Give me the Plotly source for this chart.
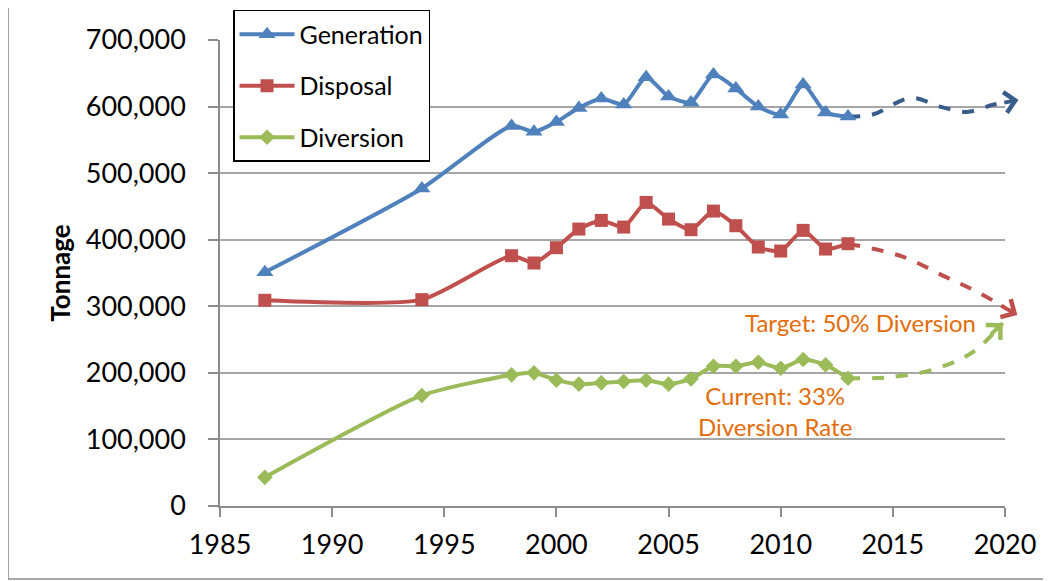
import plotly.graph_objects as go

years = [1987, 1994, 1998, 1999, 2000, 2001, 2002, 2003, 2004, 2005,
         2006, 2007, 2008, 2009, 2010, 2011, 2012, 2013]
generation = [351000, 477000, 571000, 562000, 577000, 598000, 612000, 603000, 644000, 615000,
              606000, 648000, 627000, 600000, 588000, 633000, 591000, 585000]
disposal = [309000, 310000, 376000, 365000, 388000, 416000, 429000, 419000, 456000, 431000,
            415000, 443000, 421000, 389000, 383000, 414000, 386000, 394000]
diversion = [43000, 166000, 197000, 200000, 189000, 183000, 185000, 187000, 189000, 183000,
             191000, 210000, 210000, 216000, 207000, 220000, 212000, 192000]

# hand-drawn projections to 2020, last point = arrow tip
gen_proj_x = [2013, 2014.1, 2015.8, 2017.1, 2018.3, 2019.5, 2020.6]
gen_proj_y = [585000, 588000, 613000, 600000, 592000, 603000, 610000]
disp_proj_x = [2013, 2015.4, 2017.3, 2018.8, 2020.55]
disp_proj_y = [394000, 375000, 345000, 321000, 287000]
div_proj_x = [2013, 2014.7, 2016.8, 2018.6, 2019.9]
div_proj_y = [192000, 193000, 205000, 232000, 275000]

BLUE = "#4F81BD"
BLUE_DARK = "#385D8A"
RED = "#C0504D"
GREEN = "#9BBB59"
ORANGE = "#E46C0A"
GRID = "#a6a6a6"
AXIS = "#8c8c8c"
FONT = "Lato"
X_MAX = 2020

fig = go.Figure()

def add_proj(xs, ys, color):
    fig.add_trace(go.Scatter(
        x=xs, y=ys, mode="lines", showlegend=False, hoverinfo="skip",
        line=dict(color=color, width=4, dash="dash", shape="spline", smoothing=1),
    ))
    # chevron arrow head; keep the tail inside the axis range so plotly draws it
    f = max(0.45, (xs[-1] - (X_MAX - 0.1)) / (xs[-1] - xs[-2]))
    fig.add_annotation(x=xs[-1], y=ys[-1], xref="x", yref="y",
                       ax=xs[-1] - f * (xs[-1] - xs[-2]), ay=ys[-1] - f * (ys[-1] - ys[-2]),
                       axref="x", ayref="y", text="", showarrow=True,
                       arrowhead=4, arrowsize=1, arrowwidth=4, arrowcolor=color)

add_proj(gen_proj_x, gen_proj_y, BLUE_DARK)
add_proj(disp_proj_x, disp_proj_y, RED)
add_proj(div_proj_x, div_proj_y, GREEN)

fig.add_trace(go.Scatter(x=years, y=generation, name="Generation", legendgroup="g",
                         mode="lines+markers",
                         line=dict(color=BLUE, width=4, shape="spline", smoothing=0.6),
                         marker=dict(symbol="triangle-up", size=15, color=BLUE)))
fig.add_trace(go.Scatter(x=years, y=disposal, name="Disposal", legendgroup="d",
                         mode="lines+markers",
                         line=dict(color=RED, width=4, shape="spline", smoothing=0.6),
                         marker=dict(symbol="square", size=13, color=RED)))
fig.add_trace(go.Scatter(x=years, y=diversion, name="Diversion", legendgroup="v",
                         mode="lines+markers",
                         line=dict(color=GREEN, width=4, shape="spline", smoothing=0.6),
                         marker=dict(symbol="diamond", size=12, color=GREEN)))

fig.add_annotation(x=2018.8, y=276000, text="Target: 50% Diversion", showarrow=False,
                   xanchor="right", font=dict(family=FONT, size=24, color=ORANGE))
fig.add_annotation(x=2009.75, y=142400, text="Current: 33%<br>Diversion Rate", showarrow=False,
                   xanchor="center", align="center", font=dict(family=FONT, size=24, color=ORANGE))

# outer chart border
fig.add_shape(type="rect", xref="paper", yref="paper", x0=-0.270, x1=1.0535, y0=-0.1567, y1=1.0708,
              line=dict(color=AXIS, width=1.5))

fig.update_layout(
    width=1043, height=573,
    margin=dict(l=212, r=46, t=32, b=75, autoexpand=False),
    paper_bgcolor="white", plot_bgcolor="white",
    font=dict(family=FONT, size=22, color="black"),
    legend=dict(x=0.0166, y=1.0644, xanchor="left", yanchor="top",
                bordercolor="black", borderwidth=1.5, bgcolor="white",
                font=dict(family=FONT, size=25), tracegroupgap=16,
                itemwidth=55),
    xaxis=dict(range=[1985, X_MAX], tick0=1985, dtick=5, showgrid=False,
               showline=True, linecolor=AXIS, linewidth=1.5,
               ticks="outside", ticklen=9, tickcolor=AXIS, tickwidth=1.5,
               ticklabelstandoff=5,
               tickfont=dict(family=FONT, size=27), zeroline=False),
    yaxis=dict(range=[0, 700000], dtick=100000, tickformat=",d",
               showgrid=True, gridcolor=GRID, gridwidth=1.5,
               showline=True, linecolor=AXIS, linewidth=1.5,
               ticks="outside", ticklen=10, tickcolor=AXIS, tickwidth=1.5,
               ticklabelstandoff=17,
               tickfont=dict(family=FONT, size=27), zeroline=False,
               title=dict(text="<b>Tonnage</b>", font=dict(family=FONT, size=26), standoff=8)),
)

fig.write_html("out.html")
